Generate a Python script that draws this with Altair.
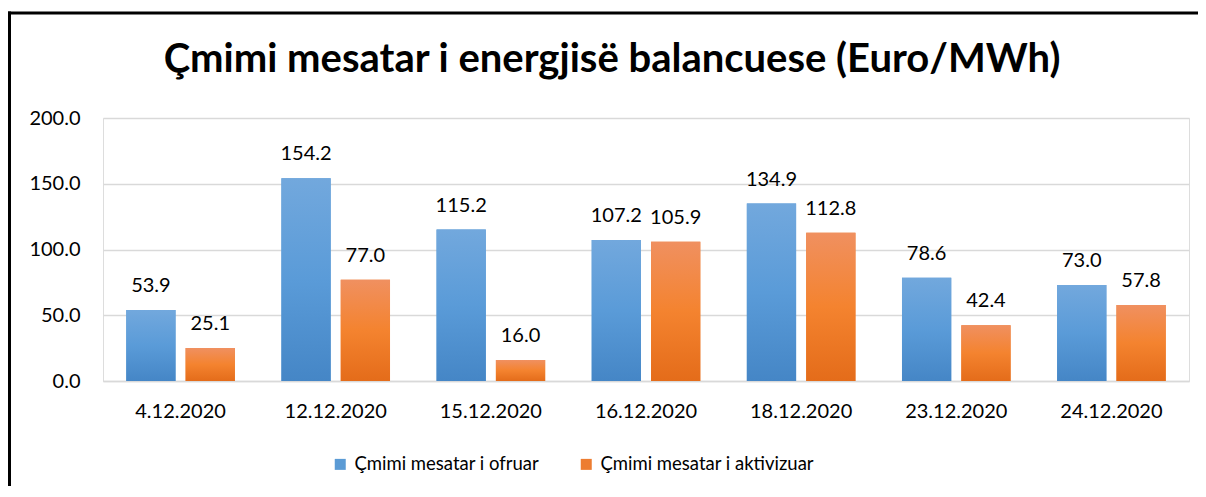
import altair as alt
import pandas as pd

dates = ["4.12.2020", "12.12.2020", "15.12.2020", "16.12.2020", "18.12.2020", "23.12.2020", "24.12.2020"]
ofruar = [53.9, 154.2, 115.2, 107.2, 134.9, 78.6, 73.0]
aktivizuar = [25.1, 77.0, 16.0, 105.9, 112.8, 42.4, 57.8]
series = ["Çmimi mesatar i ofruar", "Çmimi mesatar i aktivizuar"]
title_text = "Çmimi mesatar i energjisë balancuese (Euro/MWh)"

rows = []
for d, a, b in zip(dates, ofruar, aktivizuar):
    rows.append({"date": d, "series": series[0], "value": a})
    rows.append({"date": d, "series": series[1], "value": b})
df = pd.DataFrame(rows)

FONT = "Lato"
W, H = 1086, 263

x_enc = alt.X("date:N", sort=dates, title=None,
              scale=alt.Scale(paddingInner=0.3, paddingOuter=0.15),
              axis=alt.Axis(labelAngle=0, labelFontSize=20, labelFont=FONT, labelColor="#000000",
                            labelPadding=20, ticks=False, domainColor="#d9d9d9", domainWidth=1.5))
xo_enc = alt.XOffset("series:N", sort=series, scale=alt.Scale(paddingInner=0.17))
y_enc = alt.Y("value:Q", title=None,
              scale=alt.Scale(domain=[0, 200]),
              axis=alt.Axis(values=[0, 50, 100, 150, 200], format=".1f", labelFontSize=20,
                            labelFont=FONT, labelColor="#000000", labelPadding=23, ticks=False,
                            domain=False, gridColor="#d9d9d9", gridWidth=1.5))

base = alt.Chart(df).encode(x=x_enc, xOffset=xo_enc, y=y_enc)

legend_bars = base.mark_bar().encode(
    color=alt.Color("series:N", sort=series,
                    scale=alt.Scale(domain=series, range=["#5b9bd5", "#ed7d31"]),
                    legend=alt.Legend(title=None, orient="none", legendX=228, legendY=337,
                                      direction="horizontal", padding=0,
                                      symbolType="square", symbolSize=121, labelFontSize=18.5,
                                      labelFont=FONT, labelColor="#000000", columnPadding=37,
                                      labelOffset=5, labelLimit=0, symbolStrokeWidth=0))
)

blue_grad = alt.Gradient(gradient="linear", x1=0, y1=0, x2=0, y2=1, stops=[
    alt.GradientStop(color="#72a8dd", offset=0),
    alt.GradientStop(color="#5a9bd8", offset=0.5),
    alt.GradientStop(color="#4586c6", offset=1)])
orange_grad = alt.Gradient(gradient="linear", x1=0, y1=0, x2=0, y2=1, stops=[
    alt.GradientStop(color="#f09060", offset=0),
    alt.GradientStop(color="#f4832f", offset=0.5),
    alt.GradientStop(color="#e46c1a", offset=1)])

blue_bars = base.mark_bar(color=blue_grad).transform_filter(alt.datum.series == series[0])
orange_bars = base.mark_bar(color=orange_grad).transform_filter(alt.datum.series == series[1])

labels = base.mark_text(dy=-14, baseline="bottom", fontSize=20, font=FONT, color="#000000").encode(
    text=alt.Text("value:Q", format=".1f"))

title_df = pd.DataFrame({"t": [title_text]})
title = alt.Chart(title_df).mark_text(fontSize=40, font=FONT, fontWeight="bold", color="#000000",
                                      baseline="middle", align="center").encode(
    x=alt.value(509), y=alt.value(-58), text="t:N")

frame_top = alt.Chart(title_df).mark_rule(stroke="#000000", strokeWidth=3).encode(
    x=alt.value(-95), x2=alt.value(1200), y=alt.value(-105))
frame_left = alt.Chart(title_df).mark_rule(stroke="#000000", strokeWidth=3).encode(
    x=alt.value(-93.5), y=alt.value(-106.5), y2=alt.value(600))

chart = alt.layer(legend_bars, blue_bars, orange_bars, labels, title, frame_top, frame_left).properties(
    width=W, height=H,
    autosize=alt.AutoSizeParams(type="none"),
    padding={"left": 95, "top": 110, "right": 9, "bottom": 105},
).configure_view(stroke=None).configure(background="#ffffff")

chart.save("out.html", embed_options={"renderer": "svg", "actions": False})
